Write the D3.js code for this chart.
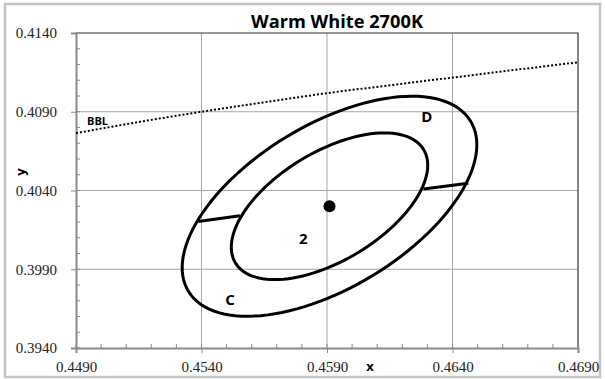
<!DOCTYPE html>
<html>
<head>
<meta charset="utf-8">
<script src="https://cdn.jsdelivr.net/npm/d3@7"></script>
<style>
  body { margin: 0; background: #fff; }
  svg { display: block; }
</style>
</head>
<body>
<svg width="605" height="379"></svg>
<script>
// chart data
const titleText = "Warm White 2700K";
const xTicks = [0.4490, 0.4540, 0.4590, 0.4640, 0.4690];
const yTicks = [0.3940, 0.3990, 0.4040, 0.4090, 0.4140];

// black body locus (dotted)
const bblX = [0.4490, 0.4515, 0.4540, 0.4565, 0.4590, 0.4615, 0.4640, 0.4665, 0.4690];
const bblY = [0.40764, 0.40835, 0.40900, 0.40960, 0.41018, 0.41068, 0.41117, 0.41166, 0.41214];

// MacAdam ellipses (2-step inner, 3-step outer)
const ellipseCenter = [0.4591, 0.4030];
const ellipseA = [0.0054, 0.0081];
const ellipseB = [0.0028, 0.0042];
const ellipseTheta = 53.7;

// C / D divider segments [x1, y1, x2, y2]
const dividers = [
  [0.45387, 0.40203, 0.45553, 0.40239],
  [0.46284, 0.40410, 0.46463, 0.40446]
];

const regionLabels = ["D", "2", "C"];
const regionX = [0.46298, 0.45806, 0.45514];
const regionY = [0.40870, 0.40097, 0.39709];

const svg = d3.select("svg");
const margin = {left: 76, right: 27, top: 33, bottom: 31};
const W = 605, H = 379;

const x = d3.scaleLinear().domain([0.4490, 0.4690]).range([margin.left, W - margin.right]);
const y = d3.scaleLinear().domain([0.3940, 0.4140]).range([H - margin.bottom, margin.top]);

// outer frame
svg.append("rect")
  .attr("x", 5).attr("y", 4).attr("width", 595).attr("height", 373)
  .attr("fill", "#fff").attr("stroke", "#c4c4c4").attr("stroke-width", 2.5);

// grid
svg.append("g").selectAll("line").data(xTicks.slice(1, -1)).join("line")
  .attr("x1", d => x(d)).attr("x2", d => x(d))
  .attr("y1", y.range()[1]).attr("y2", y.range()[0])
  .attr("stroke", "#a6a6a6").attr("stroke-width", 1);
svg.append("g").selectAll("line").data(yTicks.slice(1, -1)).join("line")
  .attr("x1", x.range()[0]).attr("x2", x.range()[1])
  .attr("y1", d => y(d)).attr("y2", d => y(d))
  .attr("stroke", "#a6a6a6").attr("stroke-width", 1);

// top and right border
svg.append("path")
  .attr("d", `M${x.range()[0]},${y.range()[1]}H${x.range()[1]}V${y.range()[0]}`)
  .attr("fill", "none").attr("stroke", "#333").attr("stroke-width", 1.2);

// minor ticks (inside)
const minorX = d3.range(0, 21).map(i => 0.4490 + i * 0.001);
const minorY = d3.range(0, 21).map(i => 0.3940 + i * 0.001);
svg.append("g").selectAll("line").data(minorX).join("line")
  .attr("x1", d => x(d)).attr("x2", d => x(d))
  .attr("y1", y.range()[0]).attr("y2", y.range()[0] - 4)
  .attr("stroke", "#888").attr("stroke-width", 1);
svg.append("g").selectAll("line").data(minorY).join("line")
  .attr("x1", x.range()[0]).attr("x2", x.range()[0] + 4)
  .attr("y1", d => y(d)).attr("y2", d => y(d))
  .attr("stroke", "#888").attr("stroke-width", 1);

// axes
const xAxis = svg.append("g")
  .attr("transform", `translate(0,${y.range()[0]})`)
  .call(d3.axisBottom(x).tickValues(xTicks).tickFormat(d3.format(".4f")).tickSize(5).tickPadding(8));
const yAxis = svg.append("g")
  .attr("transform", `translate(${x.range()[0]},0)`)
  .call(d3.axisLeft(y).tickValues(yTicks).tickFormat(d3.format(".4f")).tickSize(5).tickPadding(14));
[xAxis, yAxis].forEach(g => {
  g.select(".domain").attr("stroke", "#8a8a8a").attr("stroke-width", 2);
  g.selectAll(".tick line").attr("stroke", "#8a8a8a");
  g.selectAll(".tick text")
    .attr("font-family", "'Liberation Serif', 'Times New Roman', serif")
    .attr("font-size", "15px").attr("fill", "#222");
});

// BBL dotted line
const bbl = bblX.map((d, i) => [d, bblY[i]]);
svg.append("path")
  .datum(bbl)
  .attr("fill", "none").attr("stroke", "#000").attr("stroke-width", 2)
  .attr("stroke-dasharray", "2,2")
  .attr("d", d3.line().x(d => x(d[0])).y(d => y(d[1])).curve(d3.curveMonotoneX));

// ellipses
const th = ellipseTheta * Math.PI / 180;
const steps = d3.range(0, 361, 3).map(d => d * Math.PI / 180);
ellipseA.forEach((a, k) => {
  const b = ellipseB[k];
  const pts = steps.map(t => [
    ellipseCenter[0] + a * Math.cos(th) * Math.cos(t) - b * Math.sin(th) * Math.sin(t),
    ellipseCenter[1] + a * Math.sin(th) * Math.cos(t) + b * Math.cos(th) * Math.sin(t)
  ]);
  svg.append("path")
    .datum(pts)
    .attr("fill", "none").attr("stroke", "#000").attr("stroke-width", 3)
    .attr("d", d3.line().x(d => x(d[0])).y(d => y(d[1])).curve(d3.curveLinearClosed));
});

svg.append("g").selectAll("line").data(dividers).join("line")
  .attr("x1", d => x(d[0])).attr("y1", d => y(d[1]))
  .attr("x2", d => x(d[2])).attr("y2", d => y(d[3]))
  .attr("stroke", "#000").attr("stroke-width", 3);

// center point
svg.append("circle")
  .attr("cx", x(ellipseCenter[0])).attr("cy", y(ellipseCenter[1]))
  .attr("r", 6).attr("fill", "#000");

// region labels
svg.append("g").selectAll("text").data(regionLabels).join("text")
  .attr("x", (d, i) => x(regionX[i])).attr("y", (d, i) => y(regionY[i]))
  .attr("text-anchor", "middle").attr("dominant-baseline", "central")
  .attr("font-family", "'Open Sans', sans-serif").attr("font-weight", "bold")
  .attr("font-size", "15px").text(d => d);

svg.append("text")
  .attr("x", 87).attr("y", 125)
  .attr("font-family", "'Open Sans', sans-serif").attr("font-weight", "bold")
  .attr("font-size", "11px").text("BBL");

// title
svg.append("text")
  .attr("x", 337).attr("y", 28)
  .attr("text-anchor", "middle")
  .attr("font-family", "'Open Sans', sans-serif").attr("font-weight", "bold")
  .attr("font-size", "17px")
  .attr("textLength", 172).attr("lengthAdjust", "spacingAndGlyphs")
  .text(titleText);

// axis titles
svg.append("text")
  .attr("x", 370).attr("y", 366)
  .attr("text-anchor", "middle").attr("dominant-baseline", "central")
  .attr("font-family", "'Open Sans', sans-serif").attr("font-weight", "bold")
  .attr("font-size", "13px").text("x");
svg.append("text")
  .attr("transform", "translate(20,172) rotate(-90)")
  .attr("text-anchor", "middle").attr("dominant-baseline", "central")
  .attr("font-family", "'Open Sans', sans-serif").attr("font-weight", "bold")
  .attr("font-size", "13px").text("y");
</script>
</body>
</html>
